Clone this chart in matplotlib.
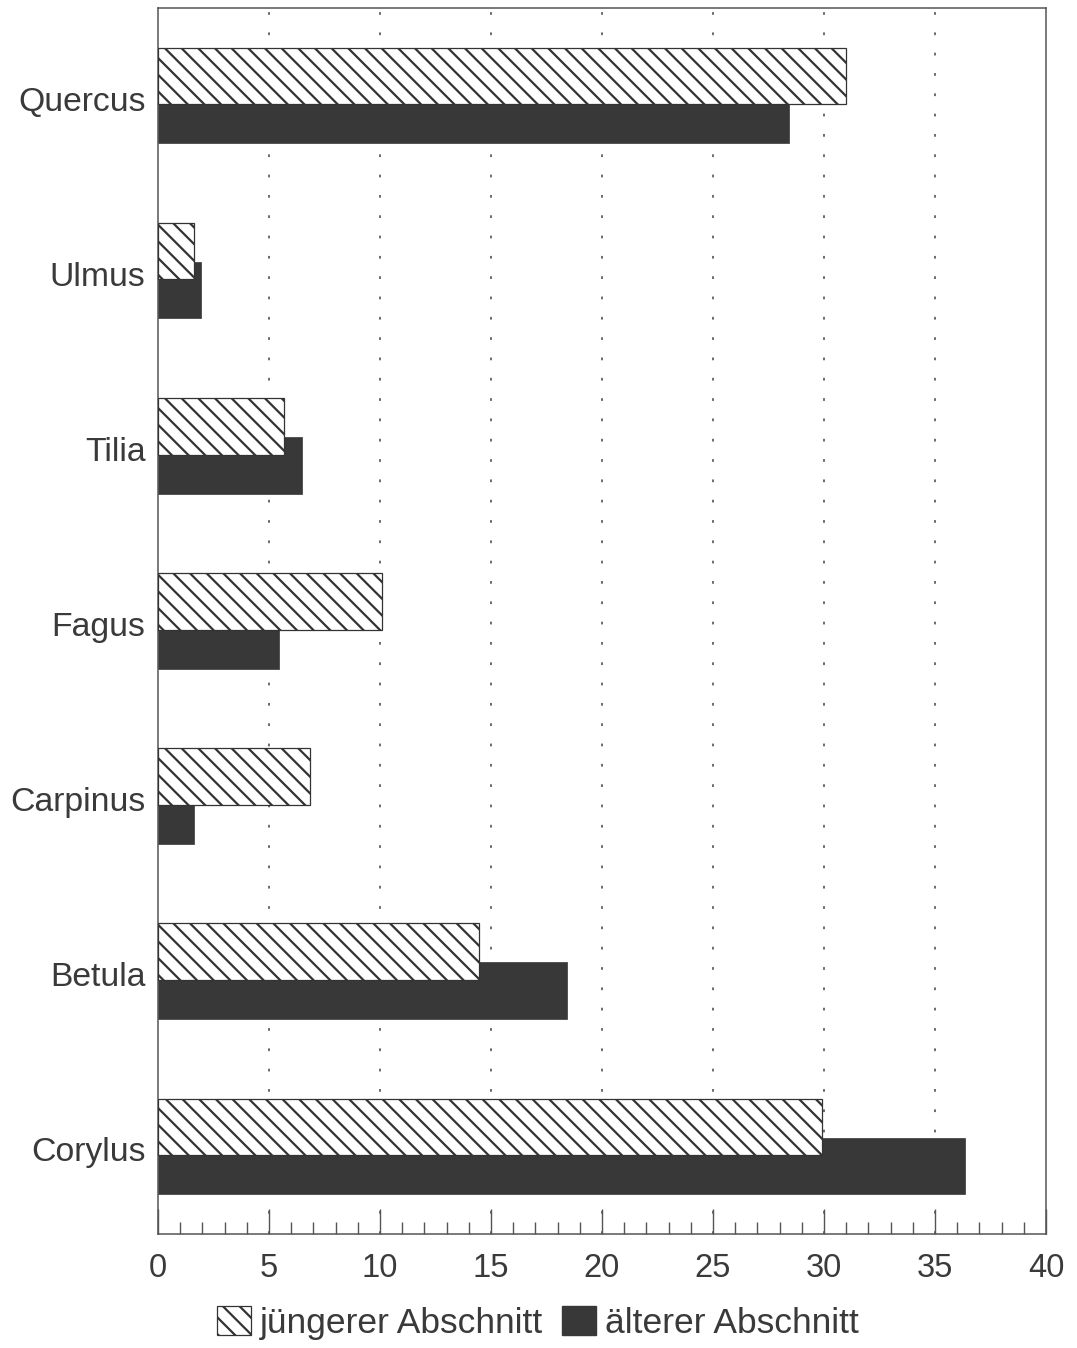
import matplotlib
matplotlib.use("Agg")
import matplotlib.pyplot as plt
from matplotlib.patches import Patch
from matplotlib.ticker import MultipleLocator
from matplotlib.transforms import ScaledTranslation
import numpy as np

categories = ["Quercus", "Ulmus", "Tilia", "Fagus", "Carpinus", "Betula", "Corylus"]
juenger = [31.0, 1.63, 5.68, 10.1, 6.85, 14.45, 29.93]
aelter = [28.42, 1.95, 6.49, 5.45, 1.63, 18.41, 36.35]
xticks = [0, 5, 10, 15, 20, 25, 30, 35, 40]
legend_labels = ["jüngerer Abschnitt", "älterer Abschnitt"]

plt.rcParams['font.family'] = ['Liberation Sans', 'DejaVu Sans']
plt.rcParams['hatch.linewidth'] = 1.6

TXT = '#3a3a3a'
DARK = '#383838'
SPINE = '#555555'
HATCH_EDGE = '#333333'

fig = plt.figure(figsize=(10.77, 13.48), dpi=100)
ax = fig.add_axes([0.1467, 0.0846, 0.9712 - 0.1467, 0.9941 - 0.0846])

y = np.arange(len(categories))
h = 0.323
off = 0.1115

ax.barh(y + off, aelter, height=h, color=DARK, edgecolor=DARK, linewidth=0.5, zorder=2)
ax.barh(y - off, juenger, height=h, color='white', edgecolor=HATCH_EDGE, linewidth=0.9,
        hatch='\\\\', zorder=3)

ax.set_xlim(0, 40)
ax.set_ylim(6.5, -0.5)

ax.set_yticks(y)
ax.set_yticklabels(categories, fontsize=24.3, color=TXT)
ax.tick_params(axis='y', length=0, pad=9)
shift = ScaledTranslation(0, -3 / 100, fig.dpi_scale_trans)
for lab in ax.get_yticklabels():
    lab.set_transform(lab.get_transform() + shift)

ax.set_xticks(xticks)
ax.set_xticklabels([str(t) for t in xticks], fontsize=23.5, color=TXT)
ax.xaxis.set_minor_locator(MultipleLocator(1))
ax.tick_params(axis='x', which='major', direction='in', length=18, width=1.0,
               color=SPINE, pad=14, top=False)
ax.tick_params(axis='x', which='minor', direction='in', length=8.5, width=1.0,
               color=SPINE, top=False)

for s in ax.spines.values():
    s.set_color(SPINE)
    s.set_linewidth(1.1)

for xv in xticks[1:-1]:
    ax.axvline(xv, color='#444444', linewidth=1.1, linestyle=(0, (1.8, 11.5)), zorder=1)

handles = [Patch(facecolor='white', edgecolor=HATCH_EDGE, hatch='\\\\', linewidth=0.9),
           Patch(facecolor=DARK, edgecolor=DARK)]
leg = fig.legend(handles, legend_labels, loc='center', bbox_to_anchor=(0.4995, 0.0185),
                 ncol=2, frameon=False, fontsize=25.5, handlelength=0.95, handleheight=0.9,
                 handletextpad=0.25, columnspacing=0.55, borderpad=0, labelcolor=TXT)

fig.savefig("out.png", dpi=100)
